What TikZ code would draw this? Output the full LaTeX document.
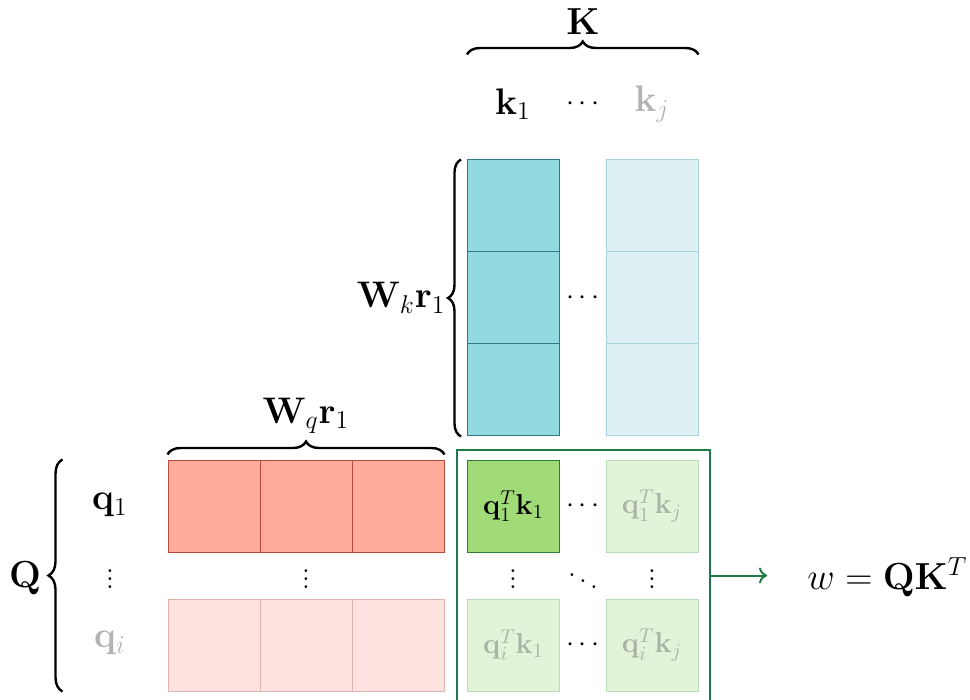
\documentclass[tikz,border=0pt]{standalone}
\usepackage{graphicx}
\usetikzlibrary{decorations.pathreplacing,arrows.meta}
\definecolor{tealF}{HTML}{93D9E0}
\definecolor{tealD}{HTML}{2B7A8A}
\definecolor{tealLF}{HTML}{DDF1F5}
\definecolor{tealLD}{HTML}{A9D4DB}
\definecolor{redF}{HTML}{FFAB9C}
\definecolor{redD}{HTML}{B34A3C}
\definecolor{redLF}{HTML}{FFE3E0}
\definecolor{redLD}{HTML}{E0B5B0}
\definecolor{grnF}{HTML}{A0DB78}
\definecolor{grnD}{HTML}{2E7D32}
\definecolor{grnLF}{HTML}{E2F3D8}
\definecolor{grnLD}{HTML}{B5DCB8}
\definecolor{frameG}{HTML}{1E7B45}
\definecolor{fadeT}{HTML}{B3B3B3}
\definecolor{fadeG}{HTML}{A8B5A5}
\newcommand{\lbltext}[1]{\scalebox{1.07}{$#1$}}
\newcommand{\bigtext}[1]{\scalebox{1.09}{$#1$}}
\begin{document}
\begin{tikzpicture}[x=0.5pt,y=-0.5pt,
  lbl/.style={font=\LARGE, inner sep=0},
  cell/.style={draw, minimum width=46pt, minimum height=46pt, inner sep=0, line width=0.5pt},
  tealbox/.style={cell, fill=tealF, draw=tealD},
  teallight/.style={cell, fill=tealLF, draw=tealLD},
  redbox/.style={cell, fill=redF, draw=redD},
  redlight/.style={cell, fill=redLF, draw=redLD},
  grnbox/.style={cell, fill=grnF, draw=grnD, font=\Large},
  grnlight/.style={cell, fill=grnLF, draw=grnLD, text=fadeG, font=\Large},
  bracestyle/.style={decorate, decoration={brace, amplitude=6.5pt}, line width=1.2pt},
  dotsnode/.style={inner sep=0, font=\Large}]
\clip (0,0) rectangle (970,700);
\useasboundingbox (0,0) rectangle (970,700);
% K column labels
\node[lbl] (K) at (583,22) {\bigtext{\mathbf{K}}};
\node[lbl] (k1) at (513,104) {\lbltext{\mathbf{k}_1}};
\node[dotsnode] (kd) at (583,104) {$\cdots$};
\node[lbl, text=fadeT] (kj) at (652,104) {\lbltext{\mathbf{k}_j}};
% teal columns
\node[tealbox] (t1) at (513.5,206) {};
\node[tealbox] (t2) at (513.5,298) {};
\node[tealbox] (t3) at (513.5,390) {};
\node[teallight] (u1) at (652,206) {};
\node[teallight] (u2) at (652,298) {};
\node[teallight] (u3) at (652,390) {};
\node[dotsnode] (td) at (583,298) {$\cdots$};
% red rows
\node[redbox] (r1) at (214,506) {};
\node[redbox] (r2) at (306,506) {};
\node[redbox] (r3) at (398,506) {};
\node[redlight] (s1) at (214,645) {};
\node[redlight] (s2) at (306,645) {};
\node[redlight] (s3) at (398,645) {};
\node[dotsnode] (rd) at (306,573) {$\vdots$};
% Q labels
\node[lbl] (q1) at (110,505) {\lbltext{\mathbf{q}_1}};
\node[dotsnode] (qd) at (110,573) {$\vdots$};
\node[lbl, text=fadeT] (qi) at (110,643) {\lbltext{\mathbf{q}_i}};
\node[lbl] (Q) at (25,578) {\bigtext{\mathbf{Q}}};
% green grid
\node[draw=frameG, line width=1.2pt, minimum width=126.5pt, minimum height=125.5pt, inner sep=0] (frame) at (583.5,575.5) {};
\node[grnbox] (g11) at (513.5,506) {$\mathbf{q}_1^T\mathbf{k}_1$};
\node[grnlight] (g1j) at (652,506) {$\mathbf{q}_1^T\mathbf{k}_j$};
\node[grnlight] (gi1) at (513.5,645) {$\mathbf{q}_i^T\mathbf{k}_1$};
\node[grnlight] (gij) at (652,645) {$\mathbf{q}_i^T\mathbf{k}_j$};
\node[dotsnode] (gd1) at (583,506) {$\cdots$};
\node[dotsnode] (gd2) at (583,645) {$\cdots$};
\node[dotsnode] (gv1) at (513,573) {$\vdots$};
\node[dotsnode] (gv2) at (652,573) {$\vdots$};
\node[dotsnode] (gdd) at (583,575) {$\ddots$};
% braces
\draw[bracestyle] ([yshift=52.5pt]t1.north west) -- ([yshift=52.5pt]u1.north east);
\draw[bracestyle] ([xshift=-3pt]t3.south west) -- ([xshift=-3pt]t1.north west);
\node[lbl, anchor=east] (Wk) at (446,298) {\lbltext{\mathbf{W}_k\mathbf{r}_1}};
\draw[bracestyle] ([yshift=2.5pt]r1.north west) -- ([yshift=2.5pt]r3.north east);
\node[lbl] (Wq) at (306,416) {\lbltext{\mathbf{W}_q\mathbf{r}_1}};
\draw[bracestyle, decoration={brace, amplitude=7pt}] ([xshift=-52.5pt]s1.south west) -- ([xshift=-52.5pt]r1.north west);
% output
\coordinate (aend) at (767,575.5);
\draw[frameG, line width=1pt, -{To[length=4pt,width=8pt]}] (frame.east) -- (aend);
\node[lbl, anchor=west] (w) at (807,577) {\bigtext{w=\mathbf{Q}\mathbf{K}^T}};
\end{tikzpicture}
\end{document}
